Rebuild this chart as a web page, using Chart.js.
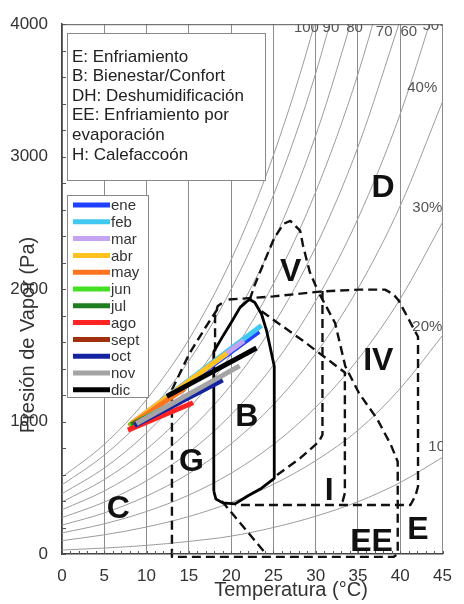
<!DOCTYPE html>
<html>
<head>
<meta charset="utf-8">
<script src="https://cdn.jsdelivr.net/npm/chart.js@4.4.1/dist/chart.umd.min.js"></script>
<style>
  html, body { margin: 0; padding: 0; background: #fff; }
  #wrap { width: 464px; height: 604px; }
</style>
</head>
<body>
<div id="wrap"><canvas id="chart" width="464" height="604"></canvas></div>
<script>
const curveTemps = [0, 5, 10, 15, 20, 25, 30, 35, 40, 45];

// Vapour pressure (Pa) of each relative humidity curve at curveTemps
const rh100 = [580, 828, 1167, 1620, 2221, 3011, 4034, 5347];
const rh90 = [522, 746, 1050, 1458, 1999, 2709, 3630, 4812];
const rh80 = [455, 649, 914, 1268, 1739, 2358, 3159, 4187];
const rh70 = [393, 562, 791, 1098, 1506, 2041, 2734, 3624, 4755];
const rh60 = [334, 476, 670, 931, 1277, 1730, 2318, 3073, 4032];
const rh50 = [275, 392, 553, 767, 1052, 1426, 1911, 2533, 3323, 4317];
const rh40 = [218, 310, 437, 607, 832, 1128, 1512, 2004, 2629, 3415];
const rh30 = [159, 228, 321, 445, 610, 827, 1108, 1469, 1927, 2504];
const rh20 = [101, 145, 204, 283, 388, 526, 705, 934, 1250, 1650];
const rh10 = [30, 45, 65, 95, 135, 200, 285, 395, 540, 730];
const rhCurves = [rh100, rh90, rh80, rh70, rh60, rh50, rh40, rh30, rh20, rh10];

// Month lines: [temperature, pressure] at the two ends
const months = ["ene", "feb", "mar", "abr", "may", "jun", "jul", "ago", "sept", "oct", "nov", "dic"];
const monthStart = [[8.3, 985], [8.3, 990], [8.2, 985], [8.0, 975], [7.9, 965], [8.0, 970],
                    [8.2, 975], [7.8, 935], [8.5, 980], [8.6, 970], [8.8, 985], [12.4, 1190]];
const monthEnd = [[23.3, 1680], [23.6, 1725], [21.5, 1610], [19.5, 1515], [14.5, 1250], [13.0, 1130],
                  [13.5, 1140], [15.5, 1142], [14.0, 1150], [19.0, 1313], [21.0, 1420], [23.0, 1555]];
const monthColors = ["#2040ff", "#40c8f0", "#c4a4f0", "#ffc21e", "#ff7420", "#44e024",
                     "#1e7d1e", "#ff2424", "#a0300e", "#1424a0", "#a4a4a4", "#000000"];

// Comfort zone (B), solid outline
const zoneB = [[17.95, 475], [17.95, 1528], [18.97, 1639], [20.1, 1758], [21.06, 1862], [21.86, 1907],
               [22.2, 1921], [22.8, 1899], [23.6, 1810], [24.2, 1684], [24.7, 1536], [25.1, 1417],
               [25.1, 571], [23.6, 497], [21.95, 438], [20.46, 378], [19.0, 386], [18.2, 415], [17.95, 475]];

// Dashed zone boundaries
const zoneG = [[18.1, 1530], [18.1, 1800], [18.4, 1870], [18.8, 1890], [17.0, 1714], [15.06, 1513],
               [13.0, 1240], [13.0, -22], [39.2, -22], [39.7, 0], [39.7, 697], [38.9, 823],
               [37.3, 1016], [35.1, 1217], [33.5, 1417], [32.3, 1743], [30.3, 1981]];
const zoneIV = [[19.7, 1921], [25, 1945], [30.5, 1981], [35, 1996], [38.2, 1996], [39.2, 1960],
                [39.8, 1915], [42.1, 1640], [42.1, 510], [41.8, 440], [41.2, 370], [20.5, 370]];
const zoneV = [[22.2, 1921], [22.8, 2033], [23.9, 2203], [25.06, 2381], [26.2, 2493], [27.0, 2515],
               [28.16, 2441], [28.5, 2329], [29.3, 2129], [30.3, 1981]];
const zoneInertia = [[30.8, 1985], [30.8, 900], [30.4, 850], [28.2, 725], [25.3, 590]];
const zoneI = [[23.6, 1832], [28.5, 1610], [33.45, 1370], [33.45, 460], [33.2, 400], [32.8, 375]];
const zoneEE = [[18.9, 400], [24.2, -5]];
const dashedZones = [zoneG, zoneIV, zoneV, zoneInertia, zoneI, zoneEE];

const toPoints = arr => arr.map(p => ({ x: p[0], y: p[1] }));

const datasets = [];

// month lines on top (lowest order is drawn last)
months.forEach((m, i) => {
  datasets.push({
    label: m,
    data: toPoints([monthStart[i], monthEnd[i]]),
    showLine: true,
    borderColor: monthColors[i],
    borderWidth: 5,
    borderCapStyle: "butt",
    pointRadius: 0,
    order: 12 - i
  });
});

datasets.push({
  label: "B",
  data: toPoints(zoneB),
  showLine: true,
  borderColor: "#000",
  borderWidth: 2.8,
  borderJoinStyle: "round",
  pointRadius: 0,
  order: 20
});

dashedZones.forEach(z => {
  datasets.push({
    data: toPoints(z),
    showLine: true,
    borderColor: "#111",
    borderWidth: 2.4,
    borderDash: [9, 5],
    borderJoinStyle: "round",
    pointRadius: 0,
    clip: false,
    order: 25
  });
});

rhCurves.forEach(c => {
  datasets.push({
    data: c.map((v, i) => ({ x: curveTemps[i], y: v })),
    showLine: true,
    borderColor: "#9c9c9c",
    borderWidth: 1,
    cubicInterpolationMode: "monotone",
    pointRadius: 0,
    order: 30
  });
});

const FONT = '"Liberation Sans", Arial, sans-serif';

// Letters, boxes, humidity labels, minor ticks and axis titles
const decorPlugin = {
  id: "decor",
  afterDatasetsDraw(chart) {
    const { ctx, chartArea: a, scales: { x, y } } = chart;
    const px = t => x.getPixelForValue(t);
    const py = p => y.getPixelForValue(p);

    // humidity labels, clipped to the plot
    ctx.save();
    ctx.beginPath();
    ctx.rect(a.left, a.top, a.right - a.left, a.bottom - a.top);
    ctx.clip();
    ctx.fillStyle = "#555";
    ctx.font = "15px " + FONT;
    ctx.textAlign = "center";
    ctx.textBaseline = "middle";
    [["100", 28.9, 3975], ["90", 31.8, 3975], ["80", 34.6, 3975], ["70", 38.1, 3940],
     ["60", 41.0, 3940], ["50%", 44.4, 3990], ["40%", 42.6, 3516], ["30%", 43.2, 2611],
     ["20%", 43.2, 1714], ["10", 44.3, 809]].forEach(l => {
      ctx.fillText(l[0], px(l[1]), py(l[2]));
    });
    ctx.restore();

    // zone letters
    ctx.save();
    ctx.fillStyle = "#111";
    ctx.font = "bold 32px " + FONT;
    ctx.textAlign = "center";
    ctx.textBaseline = "middle";
    [["D", 37.97, 2760], ["V", 27.04, 2129], ["IV", 37.4, 1454], ["B", 21.86, 1031],
     ["G", 15.3, 697], ["C", 6.67, 341], ["I", 31.6, 475], ["EE", 36.6, 90], ["E", 42.1, 178]]
      .forEach(l => ctx.fillText(l[0], px(l[1]), py(l[2])));
    ctx.restore();

    // text box
    ctx.save();
    ctx.fillStyle = "#fff";
    ctx.strokeStyle = "#888";
    ctx.lineWidth = 1;
    ctx.fillRect(67, 33, 198, 147);
    ctx.strokeRect(67.5, 33.5, 198, 147);
    ctx.fillStyle = "#222";
    ctx.font = "17px " + FONT;
    ctx.textBaseline = "middle";
    ["E: Enfriamiento", "B: Bienestar/Confort", "DH: Deshumidificación",
     "EE: Enfriamiento por", "evaporación", "H: Calefaccoón"].forEach((t, i) => {
      ctx.fillText(t, 72, 57 + i * 19.6);
    });

    // month legend
    ctx.fillStyle = "#fff";
    ctx.fillRect(67, 195, 81, 202);
    ctx.strokeRect(67.5, 195.5, 81, 202);
    ctx.font = "15px " + FONT;
    months.forEach((m, i) => {
      const yy = 205 + i * 16.8;
      ctx.strokeStyle = monthColors[i];
      ctx.lineWidth = 5;
      ctx.beginPath();
      ctx.moveTo(73, yy);
      ctx.lineTo(110, yy);
      ctx.stroke();
      ctx.fillStyle = "#333";
      ctx.fillText(m, 111, yy + 1);
    });
    ctx.restore();

    // top border and minor ticks
    ctx.save();
    ctx.strokeStyle = "#555";
    ctx.lineWidth = 1;
    ctx.beginPath();
    ctx.moveTo(a.left, a.top + 0.5);
    ctx.lineTo(a.right, a.top + 0.5);
    for (let v = 0; v <= 4000; v += 200) {
      const yy = Math.round(py(v)) + 0.5;
      ctx.moveTo(a.left, yy);
      ctx.lineTo(a.left + 4, yy);
    }
    for (let t = 0; t <= 45; t += 1) {
      const xx = Math.round(px(t)) + 0.5;
      ctx.moveTo(xx, a.bottom);
      ctx.lineTo(xx, a.bottom - 3);
    }
    ctx.stroke();
    ctx.restore();
  },
  afterDraw(chart) {
    const ctx = chart.ctx;
    ctx.save();
    ctx.fillStyle = "#333";
    ctx.font = "20px " + FONT;
    ctx.textAlign = "center";
    ctx.textBaseline = "middle";
    ctx.fillText("Temperatura (°C)", 291, 590);
    ctx.translate(28, 335);
    ctx.rotate(-Math.PI / 2);
    ctx.fillText("Presión de Vapor (Pa)", 0, 0);
    ctx.restore();
  }
};

new Chart(document.getElementById("chart"), {
  type: "scatter",
  data: { datasets: datasets },
  options: {
    responsive: false,
    animation: false,
    layout: { padding: { top: 15, right: 11, left: 0, bottom: 0 } },
    plugins: { legend: { display: false }, tooltip: { enabled: false } },
    scales: {
      x: {
        type: "linear",
        min: 0,
        max: 45,
        afterFit: s => { s.height = 50; },
        ticks: { stepSize: 5, color: "#333", font: { size: 17, family: FONT }, padding: 12 },
        grid: { color: "#8c8c8c", lineWidth: 1, drawTicks: false },
        border: { color: "#444", width: 1.5 }
      },
      y: {
        type: "linear",
        min: 0,
        max: 4000,
        afterFit: s => { s.width = 62; },
        ticks: {
          stepSize: 1000, color: "#333", font: { size: 17, family: FONT }, padding: 14,
          callback: v => String(v)
        },
        grid: { display: false, drawTicks: false },
        border: { color: "#444", width: 1.5 }
      }
    }
  },
  plugins: [decorPlugin]
});
</script>
</body>
</html>
